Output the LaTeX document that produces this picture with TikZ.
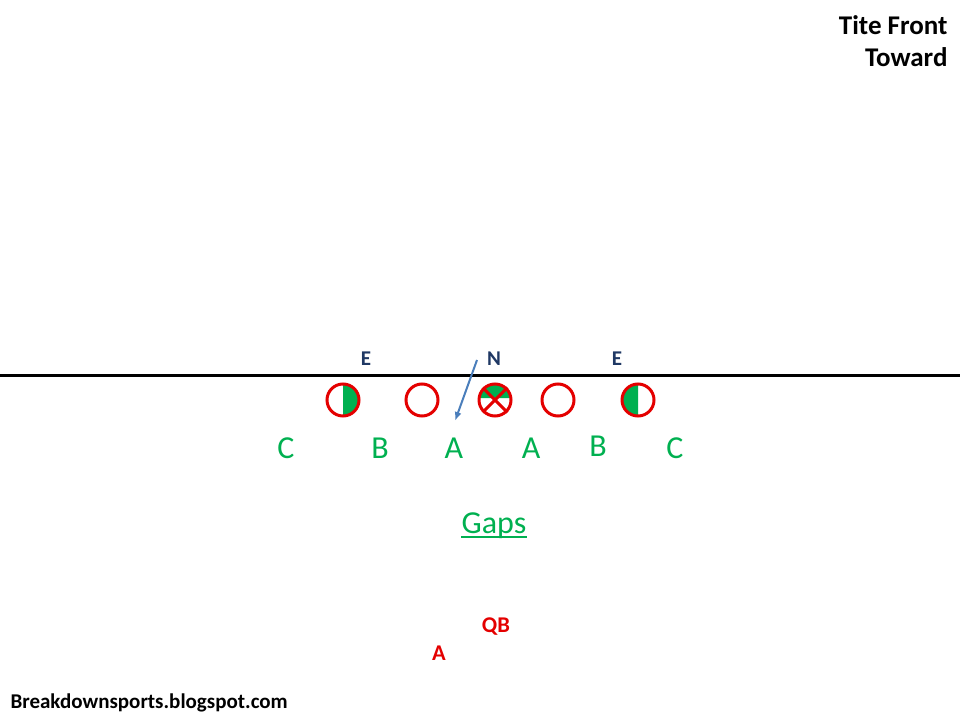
\documentclass[tikz,border=0pt]{standalone}
\usepackage{fontspec}
\setmainfont{Carlito}
\usepackage{tikz}
\usetikzlibrary{arrows.meta}
\definecolor{gapgreen}{RGB}{0,176,80}
\definecolor{olred}{RGB}{228,0,0}
\definecolor{defblue}{RGB}{31,56,100}
\definecolor{arrblue}{RGB}{74,126,187}
\tikzset{
  player/.style={circle, draw=olred, line width=3pt, minimum size=32pt, inner sep=0pt},
  defl/.style={text=defblue, font=\fontsize{21}{25}\selectfont\bfseries},
  gapl/.style={text=gapgreen, font=\fontsize{32}{38}\selectfont},
  offl/.style={text=olred, font=\fontsize{22.5}{27}\selectfont\bfseries},
  titl/.style={font=\fontsize{27}{32}\selectfont\bfseries, anchor=east}
}
\begin{document}
\begin{tikzpicture}[x=1pt, y=1pt, >=latex]
    \useasboundingbox (0,0) rectangle (960,720);
    \def \r {16}
    % line of scrimmage
    \draw[line width=3pt] (0,344) -- (960,344);
    % fills behind the linemen
    \fill[gapgreen] (343,336) arc[start angle=90, end angle=-90, radius=\r];
    \fill[gapgreen] (638,336) arc[start angle=90, end angle=270, radius=\r];
    \fill[gapgreen] (495,320) ++(7:\r) arc[start angle=7, end angle=173, radius=\r] -- cycle;
    % offensive line
    \node[player] (lt) at (343,320) {};
    \node[player] (lg) at (422,320) {};
    \node[player] (ct) at (495,320) {};
    \node[player] (rg) at (558,320) {};
    \node[player] (rt) at (638,320) {};
    \draw[olred, line width=3pt] (ct.45) -- (ct.225) (ct.135) -- (ct.315);
    % defense
    \node[defl] (le) at (366,361) {E};
    \node[defl] (nt) at (494,361) {N};
    \node[defl] (re) at (617,361) {E};
    \coordinate (nstart) at (477,360);
    \coordinate (nend) at (455,299);
    \draw[-{Latex[length=9pt,width=7pt]}, arrblue, line width=2pt] (nstart) -- (nend);
    % gaps
    \foreach \x/\g/\y in {286/C/272, 380/B/272, 454/A/272, 531/A/272, 598/B/274, 675/C/272}
    {
      \node[gapl] at (\x,\y) {\g};
    }
    \node[gapl, inner xsep=0pt] (gaps) at (494,194) {Gaps};
    \draw[gapgreen, line width=2.5pt] ([yshift=-3pt]gaps.base west) -- ([yshift=-3pt]gaps.base east);
    % backfield
    \node[offl] (qb) at (496,93) {QB};
    \node[offl] (aback) at (439,67) {A};
    % titles
    \node[titl] (t1) at (951,695) {Tite Front};
    \node[titl] (t2) at (951,663) {Toward};
    \node[font=\fontsize{21}{25}\selectfont\bfseries, anchor=west] (site) at (7,17) {Breakdownsports.blogspot.com};
\end{tikzpicture}
\end{document}
